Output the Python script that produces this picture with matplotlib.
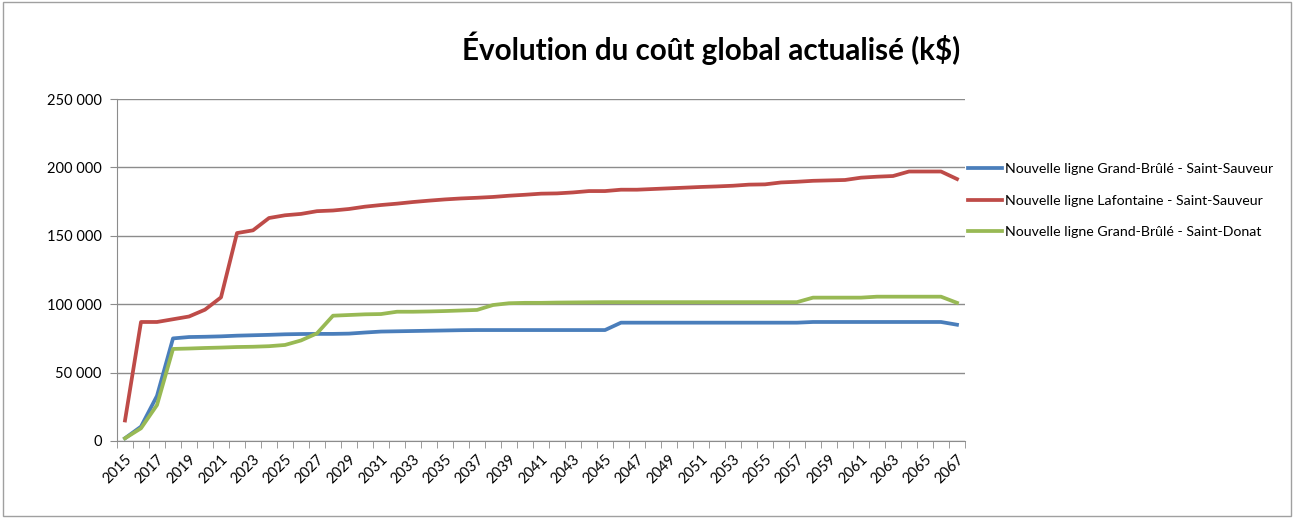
import matplotlib.pyplot as plt
import matplotlib.ticker as mticker
from matplotlib.patches import Rectangle

# ---- data (k$) ----
years = list(range(2015, 2068))

grand_brule_sauveur = [
    2000, 10500, 33000, 75000, 76000, 76200, 76500, 77000, 77300, 77600,
    78000, 78200, 78300, 78300, 78500, 79300, 80000, 80200, 80400, 80600,
    80800, 81000, 81100, 81100, 81100, 81100, 81100, 81100, 81100, 81100,
    81100, 86500, 86500, 86500, 86500, 86500, 86500, 86500, 86500, 86500,
    86500, 86500, 86500, 87000, 87000, 87000, 87000, 87000, 87000, 87000,
    87000, 87000, 85000,
]
lafontaine_sauveur = [
    15000, 87000, 87000, 89000, 91000, 96000, 105000, 152000, 154000, 163000,
    165000, 166000, 168000, 168500, 169600, 171300, 172500, 173500, 174700, 175700,
    176600, 177300, 177800, 178400, 179300, 180000, 180800, 181000, 181700, 182700,
    182700, 183700, 183700, 184200, 184700, 185200, 185700, 186100, 186600, 187400,
    187600, 189000, 189500, 190200, 190500, 190800, 192500, 193200, 193700, 197000,
    197000, 197000, 191500,
]
grand_brule_donat = [
    2000, 9300, 26300, 67300, 67600, 68000, 68300, 68700, 68900, 69300,
    70200, 73500, 78700, 91600, 92100, 92600, 92800, 94500, 94500, 94700,
    95000, 95400, 95800, 99400, 100700, 101000, 101000, 101200, 101300, 101400,
    101500, 101500, 101500, 101500, 101500, 101500, 101500, 101500, 101500, 101500,
    101500, 101500, 101500, 104800, 104800, 104800, 104800, 105500, 105500, 105500,
    105500, 105500, 101000,
]

series_labels = [
    "Nouvelle ligne Grand-Brûlé - Saint-Sauveur",
    "Nouvelle ligne Lafontaine - Saint-Sauveur",
    "Nouvelle ligne Grand-Brûlé - Saint-Donat",
]
colors = ["#4A7EBB", "#BE4B48", "#98B954"]

plt.rcParams['font.family'] = ['Lato', 'DejaVu Sans']

fig = plt.figure(figsize=(12.98, 5.18), dpi=100)
fig.patches.append(Rectangle((3 / 1298, 2 / 518), 1288 / 1298, 514 / 518,
                             transform=fig.transFigure, fill=False,
                             edgecolor="#A0A0A0", linewidth=1))

ax = fig.add_axes([117 / 1298, 1 - 441 / 518, 848 / 1298, 342 / 518])

x = list(range(len(years)))
for vals, lab, c in zip([grand_brule_sauveur, lafontaine_sauveur, grand_brule_donat],
                        series_labels, colors):
    ax.plot(x, vals, color=c, lw=2.7, label=lab, solid_joinstyle='round')

ax.set_xlim(-0.5, len(years) - 0.5)
ax.set_ylim(0, 250000)
ax.yaxis.set_major_locator(mticker.MultipleLocator(50000))
ax.yaxis.set_major_formatter(mticker.FuncFormatter(
    lambda v, p: f"{int(v):,}".replace(",", " ")))
ax.grid(axis='y', color="#8C8C8C", lw=1)
ax.set_axisbelow(True)

ax.set_xticks(x[::2])
ax.set_xticklabels([str(y) for y in years[::2]], rotation=45, ha='right',
                   rotation_mode='anchor', fontsize=10.5)
ax.set_xticks([i - 0.5 for i in range(len(years) + 1)], minor=True)
ax.tick_params(axis='x', which='major', length=0, pad=8)
ax.tick_params(axis='x', which='minor', length=5, color="#8C8C8C", direction='out')
ax.tick_params(axis='y', length=5, color="#8C8C8C", labelsize=10.5, pad=6)

for side in ['top', 'right']:
    ax.spines[side].set_visible(False)
for side in ['left', 'bottom']:
    ax.spines[side].set_color("#8C8C8C")

fig.text(711 / 1298, 1 - 48 / 518, "Évolution du coût global actualisé (k$)",
         ha='center', va='center', fontsize=21.3, fontweight='bold')

ax.legend(loc='upper left', bbox_to_anchor=(955 / 1298, 1 - 150 / 518),
          bbox_transform=fig.transFigure, frameon=False, fontsize=10.2,
          handlelength=2.4, handletextpad=0.2, labelspacing=1.4,
          borderpad=0.4)

fig.savefig("out.png", dpi=100)
